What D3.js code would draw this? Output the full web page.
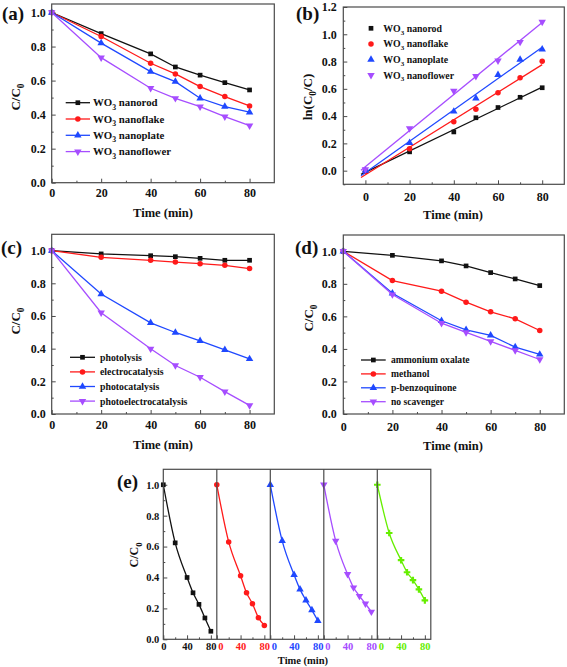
<!DOCTYPE html>
<html><head><meta charset="utf-8">
<script src="https://cdn.jsdelivr.net/npm/d3@7"></script>
<style>
body{margin:0;background:#fff}
svg{display:block}
svg text{font-family:"Liberation Serif","Tinos","Times New Roman","DejaVu Serif",serif !important;font-weight:bold;fill:#111}
</style>
</head><body>
<svg id="chart" width="567" height="667" font-family="Liberation Serif, Tinos, Times New Roman, DejaVu Serif, serif"></svg>
<script>
// ---------------- DATA ----------------
const timePoints = [0, 20, 40, 50, 60, 70, 80];

// (a) C/C0 for WO3 morphologies
const morphLabels = ["nanorod", "nanoflake", "nanoplate", "nanoflower"];
const nanorodC    = [1.0, 0.876, 0.757, 0.680, 0.632, 0.588, 0.545];
const nanoflakeC  = [1.0, 0.859, 0.702, 0.639, 0.565, 0.506, 0.451];
const nanoplateC  = [1.0, 0.820, 0.653, 0.594, 0.496, 0.447, 0.414];
const nanoflowerC = [1.0, 0.735, 0.555, 0.496, 0.447, 0.388, 0.335];

// (b) ln(C0/C)
const nanorodLn    = [-0.005, 0.138, 0.284, 0.388, 0.463, 0.538, 0.608];
const nanoflakeLn  = [-0.005, 0.160, 0.359, 0.451, 0.572, 0.681, 0.802];
const nanoplateLn  = [0.000, 0.204, 0.434, 0.531, 0.703, 0.815, 0.890];
const nanoflowerLn = [0.010, 0.310, 0.584, 0.693, 0.807, 0.943, 1.091];

// (c) processes
const processLabels = ["photolysis", "electrocatalysis", "photocatalysis", "photoelectrocatalysis"];
const photolysisC = [1.0, 0.980, 0.969, 0.963, 0.953, 0.941, 0.941];
const electroC    = [1.0, 0.959, 0.941, 0.930, 0.920, 0.910, 0.890];
const photoC      = [1.0, 0.734, 0.558, 0.499, 0.448, 0.393, 0.337];
const photoElecC  = [1.0, 0.620, 0.399, 0.297, 0.225, 0.137, 0.053];

// (d) scavengers
const scavLabels = ["ammonium oxalate", "methanol", "p-benzoquinone", "no scavenger"];
const oxalateC   = [1.0, 0.975, 0.941, 0.910, 0.869, 0.830, 0.789];
const methanolC  = [1.0, 0.820, 0.755, 0.687, 0.628, 0.585, 0.513];
const benzoC     = [1.0, 0.742, 0.573, 0.517, 0.483, 0.411, 0.366];
const noScavC    = [1.0, 0.734, 0.558, 0.501, 0.446, 0.391, 0.335];

// (e) recycling runs
const cycle1 = [1.0, 0.624, 0.400, 0.301, 0.226, 0.138, 0.052];
const cycle2 = [1.0, 0.630, 0.411, 0.301, 0.230, 0.140, 0.090];
const cycle3 = [1.0, 0.637, 0.417, 0.323, 0.252, 0.189, 0.120];
const cycle4 = [1.0, 0.637, 0.421, 0.335, 0.280, 0.230, 0.178];
const cycle5 = [1.0, 0.688, 0.512, 0.434, 0.383, 0.323, 0.252];

const yTicksC = [0, 0.2, 0.4, 0.6, 0.8, 1.0];
const yTicksLn = [0, 0.2, 0.4, 0.6, 0.8, 1.0, 1.2];
const xTicks = [0, 20, 40, 60, 80];
const xTicksE = [0, 40, 80];

// ---------------- STYLE ----------------
const colors = ["#111111", "#ff1a1a", "#1f48ff", "#a64dff", "#66ee00"];
const symbols = ["square", "circle", "up", "down", "cross"];
const frameColor = "#4a4a4a";
const FONT = '"Liberation Serif","Tinos","Times New Roman","DejaVu Serif",serif';

const svg = d3.select("#chart");

function markerPath(kind) {
  if (kind === "square") return d3.symbol(d3.symbolSquare, 22)();
  if (kind === "circle") return d3.symbol(d3.symbolCircle, 24)();
  if (kind === "cross") return d3.symbol(d3.symbolCross, 24)();
  return d3.symbol(d3.symbolTriangle, 24)();
}
function drawMarker(g, kind, x, y, color) {
  g.append("path").attr("d", markerPath(kind))
    .attr("transform", `translate(${x},${y})` + (kind === "down" ? " rotate(180)" : ""))
    .attr("fill", color);
}

function richText(g, x, y, parts, size, opts = {}) {
  const t = g.append("text").attr("x", x).attr("y", y).attr("font-size", size)
    .attr("text-anchor", opts.anchor || "start").style("font-family", FONT);
  if (opts.fill) t.style("fill", opts.fill);
  if (opts.transform) t.attr("transform", opts.transform);
  if (opts.dy) t.attr("dy", opts.dy);
  let shifted = 0;
  parts.forEach(p => {
    const sub = p.startsWith("_");
    const txt = sub ? p.slice(1) : p;
    const ts = t.append("tspan").text(txt);
    const want = sub ? size * 0.3 : 0;
    if (want !== shifted) { ts.attr("dy", want - shifted); shifted = want; }
    if (sub) ts.attr("font-size", size * 0.72);
  });
  return t;
}

function styleAxisText(sel, size) {
  sel.selectAll("text").attr("font-size", size).style("font-family", FONT).style("font-weight", "bold");
}

function makePanel(cfg) {
  const g = svg.append("g");
  const x = d3.scaleLinear().domain(cfg.xDomain).range([cfg.l, cfg.r]);
  const y = d3.scaleLinear().domain(cfg.yDomain).range([cfg.b, cfg.t]);
  const yMinor = d3.range(cfg.yDomain[0] < 0 ? -0.1 : 0.1, cfg.yDomain[1], 0.2).map(v => +v.toFixed(2));
  if (cfg.yAxis !== false) {
    const ya = g.append("g").attr("transform", `translate(${cfg.l},0)`)
      .call(d3.axisLeft(y).tickValues(cfg.yTicks).tickSize(-4).tickPadding(cfg.yPad || 6).tickFormat(d3.format(".1f")));
    ya.select(".domain").remove();
    styleAxisText(ya, cfg.tickSize || 12);
    ya.selectAll("line").attr("stroke", frameColor);
    const ym = g.append("g").attr("transform", `translate(${cfg.l},0)`)
      .call(d3.axisLeft(y).tickValues(yMinor).tickSize(-2).tickFormat(""));
    ym.select(".domain").remove();
    ym.selectAll("line").attr("stroke", frameColor);
  }
  const xa = g.append("g").attr("transform", `translate(0,${cfg.b})`)
    .call(d3.axisBottom(x).tickValues(cfg.xTicks).tickSize(-4).tickPadding(cfg.xPad || 6).tickFormat(d3.format("d")));
  xa.select(".domain").remove();
  styleAxisText(xa, cfg.tickSize || 12);
  if (cfg.tickColor) xa.selectAll("text").style("fill", cfg.tickColor);
  if (cfg.zeroStart) xa.selectAll("text").filter(d => d === 0).attr("text-anchor", "start").attr("x", 1);
  xa.selectAll("line").attr("stroke", frameColor);
  if (cfg.xMinor) {
    const xm = g.append("g").attr("transform", `translate(0,${cfg.b})`)
      .call(d3.axisBottom(x).tickValues(cfg.xMinor).tickSize(-2).tickFormat(""));
    xm.select(".domain").remove();
    xm.selectAll("line").attr("stroke", frameColor);
  }
  return { g, x, y };
}

function frame(l, t, r, b) {
  svg.append("rect").attr("x", l).attr("y", t).attr("width", r - l).attr("height", b - t)
    .attr("fill", "none").attr("stroke", frameColor).attr("stroke-width", 1.2);
}

function drawSeries(p, xs, ys, color, kind, withLine = true, curve = d3.curveLinear) {
  const pts = xs.map((v, i) => [p.x(v), p.y(ys[i])]);
  if (withLine) p.g.append("path").attr("d", d3.line().curve(curve)(pts))
    .attr("fill", "none").attr("stroke", color).attr("stroke-width", 1.3);
  pts.forEach(q => drawMarker(p.g, kind, q[0], q[1], color));
}

function xTitle(cx, by, size = 12.5) {
  svg.append("text").attr("x", cx).attr("y", by).attr("text-anchor", "middle")
    .attr("font-size", size).style("font-family", FONT).text("Time (min)");
}
function yTitle(cx, cy, parts, size = 13) {
  richText(svg, 0, 0, parts, size, { anchor: "middle", transform: `translate(${cx},${cy}) rotate(-90)` });
}
function panelLabel(x, y, s) {
  svg.append("text").attr("x", x).attr("y", y).attr("font-size", 19).style("font-family", FONT).text(s);
}
function lineLegend(g, x1, x2, tx, y0, step, labels, size, sub) {
  labels.forEach((lab, i) => {
    const y = y0 + i * step;
    g.append("line").attr("x1", x1).attr("x2", x2).attr("y1", y).attr("y2", y)
      .attr("stroke", colors[i]).attr("stroke-width", 1.3);
    drawMarker(g, symbols[i], (x1 + x2) / 2, y, colors[i]);
    const parts = sub ? ["WO", "_3", " " + lab] : [lab];
    richText(g, tx, y, parts, size, { dy: "0.35em" });
  });
}

// ---------------- (a) ----------------
{
  const p = makePanel({ l: 51.7, r: 274.3, t: 4, b: 182.7, xDomain: [0, 90], yDomain: [0, 1.05],
    xTicks, yTicks: yTicksC, xMinor: [10, 30, 50, 70], xPad: 6, yPad: 6 });
  frame(51.7, 4, 274.3, 182.7);
  [nanorodC, nanoflakeC, nanoplateC, nanoflowerC].forEach((s, i) => drawSeries(p, timePoints, s, colors[i], symbols[i]));
  lineLegend(p.g, 65.7, 90, 93, 102.7, 16.3, morphLabels, 10.8, true);
  xTitle(163, 217); yTitle(20, 97, ["C/C", "_0"]); panelLabel(2, 20, "(a)");
}
// ---------------- (b) ----------------
{
  const p = makePanel({ l: 343.3, r: 564.3, t: 7, b: 184.3, xDomain: [-10, 90], yDomain: [-0.1, 1.2],
    xTicks, yTicks: yTicksLn, xMinor: [10, 30, 50, 70], xPad: 8, yPad: 6.5 });
  frame(343.3, 7, 564.3, 184.3);
  [nanorodLn, nanoflakeLn, nanoplateLn, nanoflowerLn].forEach((s, i) => {
    const mx = d3.mean(timePoints), my = d3.mean(s);
    const slope = d3.sum(timePoints, (v, k) => (v - mx) * (s[k] - my)) / d3.sum(timePoints, v => (v - mx) ** 2);
    const icpt = my - slope * mx;
    p.g.append("line").attr("x1", p.x(-2)).attr("y1", p.y(icpt - 2 * slope))
      .attr("x2", p.x(80)).attr("y2", p.y(icpt + 80 * slope))
      .attr("stroke", colors[i]).attr("stroke-width", 1.3);
    drawSeries(p, timePoints, s, colors[i], symbols[i], false);
  });
  morphLabels.forEach((lab, i) => {
    const y = 28.3 + i * 15.6;
    drawMarker(p.g, symbols[i], 371, y, colors[i]);
    richText(p.g, 383.3, y, ["WO", "_3", " " + lab], 9.8, { dy: "0.35em" });
  });
  xTitle(453, 219); yTitle(311.7, 97, ["ln(C", "_0", "/C)"]); panelLabel(296, 20, "(b)");
}
// ---------------- (c) ----------------
{
  const p = makePanel({ l: 51.7, r: 274.3, t: 234.3, b: 414, xDomain: [0, 90], yDomain: [0, 1.1],
    xTicks, yTicks: yTicksC, xMinor: [10, 30, 50, 70], xPad: 6.5, yPad: 6 });
  frame(51.7, 234.3, 274.3, 414);
  [photolysisC, electroC, photoC, photoElecC].forEach((s, i) => drawSeries(p, timePoints, s, colors[i], symbols[i]));
  lineLegend(p.g, 70, 95, 100, 357.3, 14.6, processLabels, 9.8, false);
  xTitle(163, 449); yTitle(20, 321, ["C/C", "_0"]); panelLabel(1, 254, "(c)");
}
// ---------------- (d) ----------------
{
  const p = makePanel({ l: 343.3, r: 564.3, t: 235, b: 414, xDomain: [0, 90], yDomain: [0, 1.1],
    xTicks, yTicks: yTicksC, xMinor: [10, 30, 50, 70], xPad: 8.5, yPad: 6.5 });
  frame(343.3, 235, 564.3, 414);
  [oxalateC, methanolC, benzoC, noScavC].forEach((s, i) => drawSeries(p, timePoints, s, colors[i], symbols[i]));
  lineLegend(p.g, 361, 385.7, 391, 360, 13.9, scavLabels, 9.6, false);
  xTitle(453, 450); yTitle(313, 318, ["C/C", "_0"]); panelLabel(295, 254, "(d)");
}
// ---------------- (e) ----------------
{
  const cycles = [cycle1, cycle2, cycle3, cycle4, cycle5];
  const t = 469.3, b = 639.3, l0 = 163.3, w = 53.5;
  cycles.forEach((s, i) => {
    const l = l0 + i * w, r = l + w;
    const p = makePanel({ l, r, t, b, xDomain: [0, 90], yDomain: [0, 1.1], xTicks: xTicksE,
      yTicks: yTicksC, yAxis: i === 0, xMinor: [20, 60], xPad: 3, yPad: 4, tickSize: 10.5,
      tickColor: colors[i], zeroStart: i > 0 });
    drawSeries(p, timePoints, s, colors[i], symbols[i], true, d3.curveMonotoneX);
  });
  frame(l0, t, l0 + 5 * w, b);
  for (let i = 1; i < 5; i++) {
    svg.append("line").attr("x1", l0 + i * w).attr("x2", l0 + i * w).attr("y1", t).attr("y2", b)
      .attr("stroke", frameColor).attr("stroke-width", 1.2);
  }
  xTitle(303, 664, 10.5); yTitle(138, 555, ["C/C", "_0"], 12); panelLabel(117, 488, "(e)");
}
</script>
</body></html>
